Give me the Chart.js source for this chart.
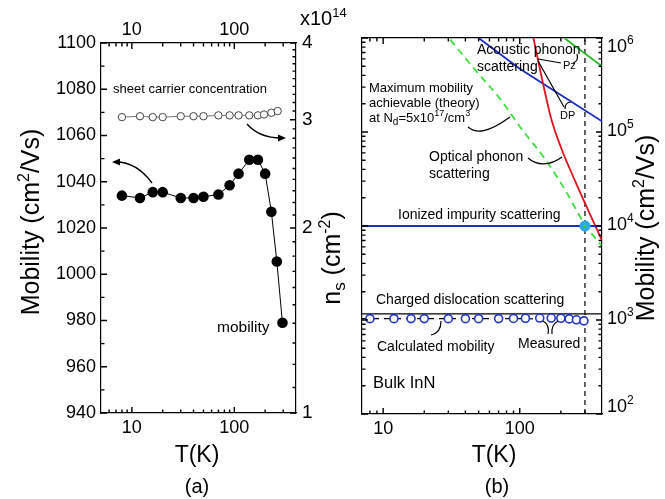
<!DOCTYPE html>
<html>
<head>
<meta charset="utf-8">
<script src="https://cdn.jsdelivr.net/npm/chart.js@4.4.1/dist/chart.umd.min.js"></script>
<style>
  body { margin: 0; background: #fff; }
  #wrap { position: relative; width: 665px; height: 499px; }
  canvas { position: absolute; left: 0; top: 0; }
</style>
</head>
<body>
<div id="wrap">
  <canvas id="chartA" width="665" height="499"></canvas>
  <canvas id="chartB" width="665" height="499"></canvas>
</div>
<script>
// ---- panel (a) data ----
const tempMob = [8, 12, 16, 20, 30, 40, 50, 70, 90, 110, 140, 170, 200, 230, 260, 295];
const mobility = [1034, 1033, 1035.5, 1035.5, 1033, 1033, 1033.5, 1034.5, 1038.5, 1043.5, 1049.5, 1049.5, 1043.5, 1027, 1005.5, 979];
const tempNs = [8, 12, 16, 20, 30, 40, 50, 70, 90, 110, 140, 170, 195, 230, 265];
const sheetConc = [3.03, 3.04, 3.03, 3.03, 3.04, 3.04, 3.04, 3.05, 3.05, 3.05, 3.05, 3.05, 3.06, 3.08, 3.10];
const mobTicks = [940, 960, 980, 1000, 1020, 1040, 1060, 1080, 1100];
const mobMinor = [950, 970, 990, 1010, 1030, 1050, 1070, 1090];
const nsTicks = [1, 2, 3, 4];
const tempTicks = [10, 100];

// ---- panel (b) data ----
const tempOptical = [126, 146, 171, 204, 252, 317, 400];
const muOptical = [1e6, 3.6e5, 1.34e5, 6.4e4, 3.1e4, 1.47e4, 7.0e3];
const tempMax = [31, 47, 71, 104, 151, 214, 298, 395];
const muMax = [9.6e5, 4.6e5, 2.3e5, 1.06e5, 5.3e4, 2.44e4, 1.05e4, 6.2e3];
const tempAcDP = [50, 100, 400];
const muAcDP = [1e6, 4.7e5, 1.3e5];
const tempAcPz = [212, 400];
const muAcPz = [1e6, 5.0e5];
const tempFlat = [7, 400];
const muIonized = [1e4, 1e4];
const muDislocation = [1160, 1160];
const tempCalc = [7, 100, 200, 300];
const muCalc = [1035, 1033, 1025, 1000];
const tempRoom = [300, 300];
const muRoom = [100, 1e6];
const tempCross = [300];
const muCross = [1e4];
const decadeTicks = [1e2, 1e3, 1e4, 1e5, 1e6];

const FONT = "'Liberation Sans', Arial, Helvetica, sans-serif";
Chart.defaults.font.family = FONT;
Chart.defaults.color = '#000';

const pts = (xs, ys) => xs.map((x, i) => ({ x: x, y: ys[i] }));

function minorLog(lo, hi) {
  const out = [];
  for (let d = lo; d < hi; d *= 10) {
    for (let k = 2; k <= 9; k++) out.push(k * d);
  }
  return out;
}

function axis(type, position, min, max, labels, size, showLabels, fontSize) {
  const horiz = position === 'top' || position === 'bottom';
  const pad = { top: 2, bottom: 4, left: 5, right: 6 }[position];
  return {
    type: type, position: position, min: min, max: max,
    grid: { display: false, drawTicks: false },
    border: { display: true, color: '#000', width: 1.2 },
    afterBuildTicks: s => { s.ticks = labels.map(v => ({ value: v })); },
    afterFit: s => { if (horiz) s.height = size; else s.width = size; },
    ticks: {
      display: showLabels, autoSkip: false, maxRotation: 0, padding: pad,
      color: '#000', font: { size: fontSize, family: FONT },
      callback: v => String(v)
    }
  };
}

// inward tick marks, placed with the chart's own scales
function drawTicks(chart, specs) {
  const ctx = chart.ctx;
  const a = chart.chartArea;
  ctx.save();
  ctx.setLineDash([]);
  ctx.strokeStyle = '#000000';
  ctx.lineWidth = 1.4;
  ctx.beginPath();
  specs.forEach(sp => {
    const s = chart.scales[sp.id];
    [[sp.major, 6], [sp.minor, 3.5]].forEach(set => {
      const len = set[1];
      set[0].forEach(v => {
        const p = s.getPixelForValue(v);
        if (!isFinite(p)) return;
        if (sp.side === 'bottom') { ctx.moveTo(p, a.bottom); ctx.lineTo(p, a.bottom - len); }
        else if (sp.side === 'top') { ctx.moveTo(p, a.top); ctx.lineTo(p, a.top + len); }
        else if (sp.side === 'left') { ctx.moveTo(a.left, p); ctx.lineTo(a.left + len, p); }
        else { ctx.moveTo(a.right, p); ctx.lineTo(a.right - len, p); }
      });
    });
  });
  ctx.stroke();
  ctx.restore();
}

// text helpers
function text(ctx, str, x, y, size, align) {
  ctx.font = size + 'px ' + FONT;
  ctx.textAlign = align || 'left';
  ctx.textBaseline = 'middle';
  ctx.fillStyle = '#000';
  ctx.fillText(str, x, y);
}
// parts: [string, size, dy]
function runs(ctx, parts, x, y, align) {
  let w = 0;
  parts.forEach(p => { ctx.font = p[1] + 'px ' + FONT; w += ctx.measureText(p[0]).width; });
  let cx = align === 'center' ? x - w / 2 : x;
  ctx.textAlign = 'left';
  ctx.textBaseline = 'alphabetic';
  ctx.fillStyle = '#000';
  parts.forEach(p => {
    ctx.font = p[1] + 'px ' + FONT;
    ctx.fillText(p[0], cx, y + (p[2] || 0));
    cx += ctx.measureText(p[0]).width;
  });
}
function vrun(ctx, parts, cx, cy) {
  ctx.save();
  ctx.translate(cx, cy);
  ctx.rotate(-Math.PI / 2);
  runs(ctx, parts, 0, 9, 'center');
  ctx.restore();
}
function arrowHead(ctx, x, y, dir) {
  ctx.beginPath();
  ctx.moveTo(x, y);
  ctx.lineTo(x - dir * 8, y - 3.5);
  ctx.lineTo(x - dir * 8, y + 3.5);
  ctx.closePath();
  ctx.fill();
}

const tempMinorA = [6, 7, 8, 9, 20, 30, 40, 50, 60, 70, 80, 90, 200, 300];
const tempMinorB = [8, 9, 20, 30, 40, 50, 60, 70, 80, 90, 200, 300];
const nsMinor = [];
for (let k = 11; k < 40; k++) { if (k % 10 !== 0) nsMinor.push(k / 10); }

const ticksA = [
  { id: 'x', side: 'bottom', major: tempTicks, minor: tempMinorA },
  { id: 'x2', side: 'top', major: tempTicks, minor: tempMinorA },
  { id: 'y', side: 'left', major: mobTicks, minor: mobMinor },
  { id: 'y2', side: 'right', major: nsTicks, minor: nsMinor }
];
const ticksB = [
  { id: 'x', side: 'bottom', major: tempTicks, minor: tempMinorB },
  { id: 'x2', side: 'top', major: tempTicks, minor: tempMinorB },
  { id: 'y', side: 'left', major: decadeTicks, minor: minorLog(100, 1e6) },
  { id: 'y2', side: 'right', major: decadeTicks, minor: minorLog(100, 1e6) }
];

const annotA = {
  id: 'annotA',
  afterDraw(chart) {
    const ctx = chart.ctx;
    ctx.save();
    text(ctx, 'sheet carrier concentration', 113, 89, 13);
    text(ctx, 'mobility', 217, 328, 15.5);
    ctx.strokeStyle = '#000';
    ctx.fillStyle = '#000';
    ctx.lineWidth = 1.3;
    ctx.beginPath();
    ctx.moveTo(152, 183);
    ctx.bezierCurveTo(141, 168, 130, 162, 116, 162);
    ctx.stroke();
    arrowHead(ctx, 112, 162, -1);
    ctx.beginPath();
    ctx.moveTo(247, 124);
    ctx.bezierCurveTo(255, 133, 267, 138, 281, 138);
    ctx.stroke();
    arrowHead(ctx, 286, 138, 1);
    vrun(ctx, [['Mobility (cm', 25], ['2', 16, -10], ['/Vs)', 25]], 30, 222);
    vrun(ctx, [['n', 25], ['s', 17, 5], [' (cm', 25], ['-2', 16, -10], [')', 25]], 331, 258);
    runs(ctx, [['x10', 20], ['14', 13, -8]], 300, 25);
    text(ctx, 'T(K)', 197, 456, 23, 'center');
    text(ctx, '(a)', 197, 487, 20, 'center');
    ctx.restore();
    drawTicks(chart, ticksA);
  }
};

const annotB = {
  id: 'annotB',
  afterDraw(chart) {
    const ctx = chart.ctx;
    const ys = chart.scales.y2;
    ctx.save();
    decadeTicks.forEach(v => {
      let y = ys.getPixelForValue(v) - 3;
      y = Math.min(Math.max(y, 45), 405);
      runs(ctx, [['10', 18], [String(Math.round(Math.log10(v))), 12, -8]], 607, y + 6.5);
    });
    vrun(ctx, [['Mobility (cm', 25], ['2', 16, -10], ['/Vs)', 25]], 645, 228);
    text(ctx, 'T(K)', 494, 456, 23, 'center');
    text(ctx, '(b)', 497, 487, 20, 'center');

    text(ctx, 'Acoustic phonon', 477, 50, 14);
    text(ctx, 'scattering', 477, 67, 14);
    text(ctx, 'Pz', 563, 66, 11);
    text(ctx, 'DP', 560, 116, 11);
    text(ctx, 'Maximum mobility', 369, 88, 13);
    text(ctx, 'achievable (theory)', 369, 103, 13);
    runs(ctx, [['at N', 13], ['d', 10, 3], ['=5x10', 13], ['17', 9, -6], ['/cm', 13], ['3', 9, -6]], 369, 122);
    text(ctx, 'Optical phonon', 429, 157, 14);
    text(ctx, 'scattering', 429, 174, 14);
    text(ctx, 'Ionized impurity scattering', 398, 215, 14);
    text(ctx, 'Charged dislocation scattering', 376, 300, 14);
    text(ctx, 'Calculated mobility', 377, 347, 14);
    text(ctx, 'Measured', 518, 344, 14);
    text(ctx, 'Bulk InN', 373, 383, 16.5);

    ctx.strokeStyle = '#000';
    ctx.lineWidth = 1.2;
    const path = f => { ctx.beginPath(); f(); ctx.stroke(); };
    path(() => { ctx.moveTo(468, 127); ctx.bezierCurveTo(476, 134, 488, 133, 510, 117); });
    path(() => { ctx.moveTo(528, 158); ctx.bezierCurveTo(537, 166, 550, 166, 562, 157); });
    path(() => { ctx.moveTo(538, 59); ctx.lineTo(561, 63); });
    path(() => { ctx.moveTo(573, 63); ctx.quadraticCurveTo(579, 61, 577, 54); });
    path(() => { ctx.moveTo(538, 61); ctx.lineTo(564, 107); });
    path(() => { ctx.moveTo(565, 109); ctx.quadraticCurveTo(565, 102, 571, 102); });
    path(() => { ctx.moveTo(431, 335); ctx.quadraticCurveTo(441, 333, 441, 321); });
    path(() => { ctx.moveTo(543, 321); ctx.quadraticCurveTo(550, 325, 548, 334); });
    path(() => { ctx.moveTo(558, 321); ctx.quadraticCurveTo(551, 325, 552, 334); });
    ctx.restore();
    drawTicks(chart, ticksB);
  }
};

const common = {
  responsive: false,
  animation: false,
  events: [],
  layout: { padding: 0 },
  plugins: { legend: { display: false }, tooltip: { enabled: false } }
};

new Chart(document.getElementById('chartA'), {
  type: 'line',
  data: {
    datasets: [
      { label: 'mobility', data: pts(tempMob, mobility), xAxisID: 'x', yAxisID: 'y',
        borderColor: '#000', borderWidth: 1, pointRadius: 5.3,
        pointBackgroundColor: '#000', pointBorderColor: '#000', pointBorderWidth: 0 },
      { label: 'sheet carrier concentration', data: pts(tempNs, sheetConc), xAxisID: 'x', yAxisID: 'y2',
        borderColor: '#777', borderWidth: 1, pointRadius: 3.7,
        pointBackgroundColor: '#fff', pointBorderColor: '#444', pointBorderWidth: 1 }
    ]
  },
  options: Object.assign({}, common, {
    scales: {
      x: axis('logarithmic', 'bottom', 5, 400, tempTicks, 499 - 413, true, 18),
      x2: axis('logarithmic', 'top', 5, 400, tempTicks, 43, true, 18),
      y: axis('linear', 'left', 940, 1100, mobTicks, 101, true, 18),
      y2: axis('logarithmic', 'right', 1, 4, nsTicks, 665 - 296, true, 19)
    }
  }),
  plugins: [annotA]
});

const line = (label, xs, ys, color, extra) => Object.assign({
  label: label, data: pts(xs, ys), xAxisID: 'x', yAxisID: 'y',
  borderColor: color, borderWidth: 1.8, pointRadius: 0, fill: false
}, extra || {});

new Chart(document.getElementById('chartB'), {
  type: 'line',
  data: {
    datasets: [
      line('300 K centre', tempCross, muCross, '#2a9a2a', { showLine: false, pointRadius: 1.5, pointBackgroundColor: '#39d639', pointBorderWidth: 0 }),
      line('300 K', tempCross, muCross, '#2aa8e8', { showLine: false, pointRadius: 5.5, pointBackgroundColor: '#2aa8e8', pointBorderWidth: 0 }),
      line('Measured', tempMob, mobility, '#1f33c8', { showLine: false, pointRadius: 4, pointBackgroundColor: '#fff', pointBorderColor: '#1f33c8', pointBorderWidth: 1.6 }),
      line('Calculated mobility', tempCalc, muCalc, '#000', { borderWidth: 1.2, borderDash: [6, 5] }),
      line('Charged dislocation scattering', tempFlat, muDislocation, '#000', { borderWidth: 1.2 }),
      line('Ionized impurity scattering', tempFlat, muIonized, '#1a2fc8'),
      line('Optical phonon scattering', tempOptical, muOptical, '#e0141e', { cubicInterpolationMode: 'monotone' }),
      line('Maximum mobility', tempMax, muMax, '#3ddd3d', { borderDash: [7, 5], cubicInterpolationMode: 'monotone' }),
      line('Acoustic DP', tempAcDP, muAcDP, '#1a2bc0'),
      line('Acoustic Pz', tempAcPz, muAcPz, '#22b822'),
      line('300 K line', tempRoom, muRoom, '#000', { borderWidth: 1.2, borderDash: [5, 4] })
    ]
  },
  options: Object.assign({}, common, {
    scales: {
      x: axis('logarithmic', 'bottom', 7, 400, tempTicks, 499 - 414, true, 18),
      x2: axis('logarithmic', 'top', 7, 400, tempTicks, 38, false, 18),
      y: axis('logarithmic', 'left', 100, 1e6, decadeTicks, 362, false, 18),
      y2: axis('logarithmic', 'right', 100, 1e6, decadeTicks, 665 - 602, false, 18)
    }
  }),
  plugins: [annotB]
});
</script>
</body>
</html>
